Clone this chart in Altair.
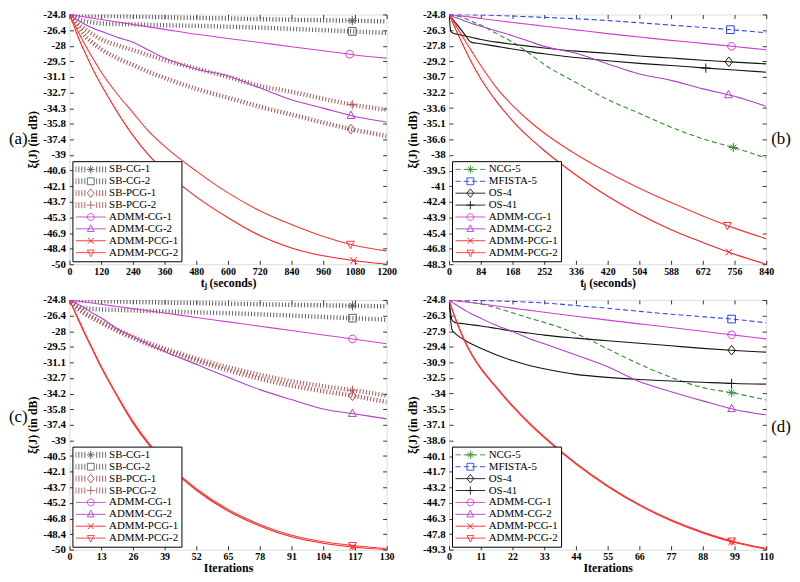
import altair as alt
import pandas as pd
import numpy as np

# ---------------- data ----------------
# panel (a): time in seconds
A_X = [0, 15, 30, 60, 90, 120, 180, 240, 300, 360, 480, 600, 720, 840, 960, 1080, 1200]
A_SB_CG_1 = [-24.80, -24.83, -24.85, -24.87, -24.89, -24.92, -24.96, -25.00, -25.04, -25.08, -25.15, -25.20, -25.27, -25.33, -25.38, -25.43, -25.50]
A_SB_CG_2 = [-24.80, -25.00, -25.20, -25.45, -25.60, -25.70, -25.76, -25.80, -25.84, -25.88, -25.95, -26.03, -26.13, -26.25, -26.38, -26.52, -26.66]
A_SB_PCG_1 = [-24.80, -25.40, -25.90, -27.00, -27.70, -28.30, -29.20, -29.90, -30.60, -31.20, -32.30, -33.20, -34.10, -34.90, -35.70, -36.45, -37.05]
A_SB_PCG_2 = [-24.80, -25.30, -25.70, -26.30, -26.85, -27.30, -27.90, -28.40, -28.90, -29.40, -30.25, -31.10, -32.00, -32.60, -33.30, -33.95, -34.40]
A_ADMM_CG_1 = [-24.80, -24.86, -24.93, -25.05, -25.18, -25.30, -25.55, -25.80, -26.05, -26.30, -26.80, -27.22, -27.63, -28.05, -28.46, -28.88, -29.20]
A_ADMM_CG_2 = [-24.80, -25.10, -25.35, -25.80, -26.20, -26.50, -27.10, -27.60, -28.40, -29.20, -30.30, -31.00, -32.20, -33.40, -34.25, -35.10, -35.65]
A_ADMM_PCG_1 = [-24.80, -25.80, -26.90, -28.70, -30.40, -31.90, -34.60, -37.00, -39.00, -40.60, -43.20, -45.30, -47.10, -48.35, -49.15, -49.65, -50.00]
A_ADMM_PCG_2 = [-24.80, -25.60, -26.40, -27.90, -29.30, -30.60, -32.80, -34.70, -36.60, -38.10, -40.60, -42.80, -44.60, -46.00, -47.20, -48.10, -48.65]
A_MARK_X = [1070, 1070, 1065, 1070, 1060, 1065, 1075, 1063]
A_YLABELS = ["-24.8", "-26.4", "-28", "-29.5", "-31.1", "-32.7", "-34.3", "-35.8", "-37.4",
             "-39", "-40.6", "-42.1", "-43.7", "-45.3", "-46.9", "-48.4", "-50"]

# panel (b): time in seconds
B_X = [0, 5, 10, 20, 30, 42, 58, 84, 126, 168, 210, 252, 336, 420, 504, 588, 672, 756, 840]
B_NCG_5 = [-24.80, -24.84, -24.88, -24.95, -25.02, -25.15, -25.40, -25.80, -26.60, -27.40, -28.40, -29.50, -31.20, -32.80, -34.10, -35.40, -36.50, -37.35, -38.30]
B_MFISTA_5 = [-24.80, -24.80, -24.80, -24.81, -24.81, -24.82, -24.83, -24.85, -24.90, -24.95, -25.01, -25.07, -25.20, -25.37, -25.58, -25.80, -26.02, -26.26, -26.52]
B_OS_4 = [-24.80, -26.40, -26.55, -26.65, -26.72, -26.82, -26.95, -27.15, -27.40, -27.60, -27.78, -27.95, -28.25, -28.45, -28.70, -28.90, -29.10, -29.28, -29.45]
B_OS_41 = [-24.80, -25.02, -25.25, -25.70, -26.15, -26.70, -27.40, -27.55, -27.80, -28.05, -28.28, -28.50, -28.85, -29.15, -29.40, -29.60, -29.82, -30.03, -30.23]
B_ADMM_CG_1 = [-24.80, -24.82, -24.84, -24.89, -24.93, -24.98, -25.05, -25.18, -25.37, -25.55, -25.72, -25.90, -26.25, -26.60, -26.92, -27.24, -27.52, -27.82, -28.12]
B_ADMM_CG_2 = [-24.80, -24.90, -24.98, -25.12, -25.25, -25.42, -25.62, -25.90, -26.35, -26.80, -27.30, -27.80, -28.45, -29.45, -30.40, -31.00, -31.80, -32.50, -33.45]
B_ADMM_PCG_1 = [-24.80, -25.20, -25.60, -26.40, -27.15, -28.05, -29.20, -30.85, -33.00, -34.80, -36.30, -37.60, -39.90, -41.90, -43.60, -45.05, -46.25, -47.35, -48.30]
B_ADMM_PCG_2 = [-24.80, -25.05, -25.35, -25.95, -26.55, -27.25, -28.15, -29.60, -31.70, -33.35, -34.75, -35.95, -37.95, -39.65, -41.15, -42.50, -43.75, -44.90, -45.90]
B_MARK_X = [753, 745, 741, 680, 748, 740, 741, 737]
B_YLABELS = ["-24.8", "-26.3", "-27.8", "-29.2", "-30.7", "-32.2", "-33.6", "-35.1", "-36.6",
             "-38", "-39.5", "-41", "-42.4", "-43.9", "-45.4", "-46.8", "-48.3"]

# panel (c): iterations
C_X = [0, 2, 4, 7, 10, 13, 19.5, 26, 32.5, 39, 52, 65, 78, 91, 104, 117, 130]
C_SB_CG_1 = [-24.80, -24.82, -24.84, -24.86, -24.89, -24.91, -24.95, -24.99, -25.03, -25.06, -25.12, -25.18, -25.24, -25.29, -25.34, -25.39, -25.45]
C_SB_CG_2 = [-24.80, -25.20, -25.45, -25.65, -25.72, -25.76, -25.81, -25.86, -25.91, -25.96, -26.05, -26.14, -26.25, -26.38, -26.52, -26.65, -26.80]
C_SB_PCG_1 = [-24.80, -25.40, -25.80, -26.30, -26.70, -27.10, -27.90, -28.65, -29.30, -29.90, -30.95, -31.90, -32.75, -33.45, -34.00, -34.50, -35.10]
C_SB_PCG_2 = [-24.80, -25.35, -25.70, -26.20, -26.60, -27.00, -27.80, -28.50, -29.15, -29.70, -30.70, -31.60, -32.35, -33.00, -33.50, -33.95, -34.45]
C_ADMM_CG_1 = [-24.80, -24.87, -24.94, -25.04, -25.14, -25.24, -25.46, -25.68, -25.90, -26.12, -26.57, -27.01, -27.45, -27.89, -28.33, -28.77, -29.22]
C_ADMM_CG_2 = [-24.80, -25.05, -25.30, -25.75, -26.20, -26.60, -27.70, -28.50, -29.30, -30.00, -31.30, -32.60, -33.85, -34.85, -35.80, -36.30, -36.80]
C_ADMM_PCG_1 = [-24.80, -25.90, -27.00, -28.60, -30.10, -31.60, -34.50, -37.20, -39.40, -41.20, -44.00, -46.10, -47.60, -48.70, -49.35, -49.75, -50.00]
C_ADMM_PCG_2 = [-24.80, -25.85, -26.90, -28.50, -30.00, -31.50, -34.40, -37.05, -39.25, -41.05, -43.85, -45.95, -47.45, -48.55, -49.20, -49.60, -49.90]
C_MARK_X = [116, 116, 116, 116, 116, 116, 116, 116]
C_YLABELS = ["-24.8", "-26.4", "-28", "-29.5", "-31.1", "-32.7", "-34.2", "-35.8", "-37.4",
             "-39", "-40.5", "-42.1", "-43.7", "-45.2", "-46.8", "-48.4", "-50"]

# panel (d): iterations
D_X = [0, 1, 2, 4, 6, 8, 11, 16.5, 22, 27.5, 33, 44, 55, 66, 77, 88, 99, 110]
D_NCG_5 = [-24.80, -24.82, -24.85, -24.90, -24.97, -25.05, -25.20, -25.60, -26.05, -26.55, -27.00, -28.10, -29.60, -31.10, -32.40, -33.40, -33.95, -34.62]
D_MFISTA_5 = [-24.80, -24.80, -24.80, -24.81, -24.82, -24.83, -24.85, -24.90, -24.95, -25.02, -25.10, -25.35, -25.62, -25.92, -26.20, -26.45, -26.70, -27.05]
D_OS_4 = [-24.80, -26.75, -27.00, -27.10, -27.17, -27.25, -27.35, -27.60, -27.85, -28.05, -28.25, -28.55, -28.80, -29.05, -29.30, -29.55, -29.76, -29.92]
D_OS_41 = [-24.80, -27.70, -28.05, -28.50, -28.85, -29.15, -29.55, -30.20, -30.75, -31.20, -31.55, -32.10, -32.40, -32.60, -32.75, -32.88, -33.00, -33.06]
D_ADMM_CG_1 = [-24.80, -24.84, -24.87, -24.94, -25.01, -25.08, -25.18, -25.40, -25.60, -25.80, -26.00, -26.40, -26.78, -27.15, -27.50, -27.88, -28.25, -28.62]
D_ADMM_CG_2 = [-24.80, -25.00, -25.20, -25.55, -25.90, -26.20, -26.60, -27.30, -27.90, -28.55, -29.10, -30.20, -31.35, -32.80, -33.80, -34.70, -35.55, -36.08]
D_ADMM_PCG_1 = [-24.80, -25.70, -26.50, -27.95, -29.20, -30.25, -31.55, -33.45, -35.25, -36.85, -38.30, -40.90, -43.10, -44.95, -46.45, -47.65, -48.60, -49.25]
D_ADMM_PCG_2 = [-24.80, -25.65, -26.45, -27.88, -29.12, -30.17, -31.47, -33.37, -35.17, -36.77, -38.22, -40.82, -43.02, -44.87, -46.37, -47.57, -48.52, -49.17]
D_MARK_X = [98, 98, 98, 98, 98, 98, 98, 98]
D_YLABELS = ["-24.8", "-26.3", "-27.9", "-29.4", "-30.9", "-32.5", "-34", "-35.5", "-37.1",
             "-38.6", "-40.1", "-41.7", "-43.2", "-44.7", "-46.3", "-47.8", "-49.3"]

NAMES_AC = ["SB-CG-1", "SB-CG-2", "SB-PCG-1", "SB-PCG-2",
            "ADMM-CG-1", "ADMM-CG-2", "ADMM-PCG-1", "ADMM-PCG-2"]
NAMES_BD = ["NCG-5", "MFISTA-5", "OS-4", "OS-41",
            "ADMM-CG-1", "ADMM-CG-2", "ADMM-PCG-1", "ADMM-PCG-2"]

# ---------------- styles ----------------
STYLE = {  # name: (colour, line kind, marker)
    "SB-CG-1": ("#555555", "dot", "star"),
    "SB-CG-2": ("#606060", "dot", "square"),
    "SB-PCG-1": ("#a54c4c", "dot", "diamond"),
    "SB-PCG-2": ("#ab5858", "dot", "plus"),
    "ADMM-CG-1": ("#d23fd2", "solid", "circle"),
    "ADMM-CG-2": ("#b13fc9", "solid", "triup"),
    "ADMM-PCG-1": ("#ff2020", "solid", "cross"),
    "ADMM-PCG-2": ("#ff3535", "solid", "tridown"),
    "NCG-5": ("#2f8f2f", "dash", "star"),
    "MFISTA-5": ("#3040f0", "dash", "square"),
    "OS-4": ("#151515", "solid", "diamond"),
    "OS-41": ("#151515", "solid", "plus"),
}

SERIF = "Liberation Serif"


def f(v):
    return f"{v:.3f}".rstrip("0").rstrip(".")


def glyph(kind, r):
    if kind == "circle":
        return f"M{f(-r)},0A{f(r)},{f(r)} 0 1,1 {f(r)},0A{f(r)},{f(r)} 0 1,1 {f(-r)},0Z"
    if kind == "square":
        return f"M{f(-r)},{f(-r)}H{f(r)}V{f(r)}H{f(-r)}Z"
    if kind == "diamond":
        return f"M0,{f(-1.25*r)}L{f(r)},0L0,{f(1.25*r)}L{f(-r)},0Z"
    if kind == "plus":
        a = 1.2 * r
        return f"M{f(-a)},0H{f(a)}M0,{f(-a)}V{f(a)}"
    if kind == "cross":
        a = 0.85 * r
        return f"M{f(-a)},{f(-a)}L{f(a)},{f(a)}M{f(-a)},{f(a)}L{f(a)},{f(-a)}"
    if kind == "star":
        a = 0.75 * r
        return glyph("plus", r) + f"M{f(-a)},{f(-a)}L{f(a)},{f(a)}M{f(-a)},{f(a)}L{f(a)},{f(-a)}"
    if kind == "triup":
        return f"M0,{f(-1.15*r)}L{f(r)},{f(0.75*r)}L{f(-r)},{f(0.75*r)}Z"
    if kind == "tridown":
        return f"M0,{f(1.15*r)}L{f(r)},{f(-0.75*r)}L{f(-r)},{f(-0.75*r)}Z"
    return ""


def legend_path(line, marker):
    if line == "solid":
        p = "M-1,0H1"
    elif line == "dash":
        p = "M-1,0H-0.65M-0.45,0H-0.1M0.1,0H0.45M0.65,0H1"
    else:
        xs = [-1, -0.8, -0.6, -0.4, 0.4, 0.6, 0.8, 1]
        p = "".join(f"M{f(x)},-0.2V0.2" for x in xs)
    return p + glyph(marker, 0.23)


def panel(grid, values, names, mark_x, xmax, xstep, ylabels, xtitle, tag, tag_x, tag_y,
          W=320, H=252):
    ybot = float(ylabels[-1])
    step = (-24.8 - ybot) / 16
    yticks = [round(-24.8 - i * step, 4) for i in range(17)]
    xticks = list(range(0, xmax + 1, xstep))
    lab = "[" + ",".join(f"'{t}'" for t in ylabels) + "]"

    rows, mrows = [], []
    for n, vals in zip(names, values):
        for x, y in zip(grid, vals):
            rows.append({"x": x, "y": y, "s": n, "k": STYLE[n][1], "c": STYLE[n][0]})
    for n, vals, mx in zip(names, values, mark_x):
        mrows.append({"x": mx, "y": float(np.interp(mx, grid, vals)), "s": n, "c": STYLE[n][0]})
    df = pd.DataFrame(rows)
    mdf = pd.DataFrame(mrows)

    xs = alt.Scale(domain=[0, xmax], nice=False, zero=False)
    ys = alt.Scale(domain=[ybot, -24.8], nice=False, zero=False)
    xaxis = alt.Axis(values=xticks, format="d", title=xtitle, labelFont=SERIF, labelFontWeight="bold",
                     labelFontSize=10, labelColor="black", labelPadding=2, labelFlush=False,
                     labelOverlap=False, ticks=False, domain=False, grid=True, gridColor="black",
                     gridOpacity=1, gridWidth=0.8, gridDash=[4, H - 8, 4], titleFont=SERIF,
                     titleFontSize=12, titleFontWeight="bold", titleColor="black", titlePadding=1)
    yaxis = alt.Axis(values=yticks, labelExpr=f"{lab}[round((-24.8 - datum.value) / {step})]",
                     title="ξ(J)    (in dB)", labelFont=SERIF, labelFontWeight="bold",
                     labelFontSize=11, labelColor="black", labelPadding=4, labelOverlap=False,
                     ticks=False, domain=False, grid=True, gridColor="black", gridOpacity=1,
                     gridWidth=0.8, gridDash=[4, W - 8, 4], titleFont=SERIF, titleFontSize=12,
                     titleFontWeight="bold", titleColor="black", titlePadding=3)
    ex = alt.X("x:Q", scale=xs, axis=xaxis)
    ey = alt.Y("y:Q", scale=ys, axis=yaxis)

    layers = []
    for kind, props in [("dot", dict(strokeWidth=4.5, strokeDash=[1, 2.2], strokeCap="butt")),
                        ("dash", dict(strokeWidth=1.1, strokeDash=[5, 3])),
                        ("solid", dict(strokeWidth=1.1))]:
        sub = df[df.k == kind]
        if len(sub) == 0:
            continue
        layers.append(alt.Chart(sub).mark_line(clip=True, interpolate="monotone", **props).encode(
            x=ex, y=ey, detail="s:N", color=alt.Color("c:N", scale=None)))

    # one marker per series, each with its own glyph
    for n in names:
        layers.append(alt.Chart(mdf[mdf.s == n]).mark_point(
            filled=False, size=60, strokeWidth=1, opacity=1, shape=glyph(STYLE[n][2], 1)).encode(
            x=ex, y=ey, color=alt.Color("c:N", scale=None)))

    # legend only: invisible points carrying stroke + shape (line sample and marker)
    leg = alt.Legend(title=None, orient="bottom-left", offset=3, padding=3, strokeColor="black",
                     fillColor="white", labelFont=SERIF, labelFontSize=11, labelColor="black",
                     symbolSize=900, symbolStrokeWidth=0.9, clipHeight=10.6, rowPadding=0,
                     labelOffset=3, cornerRadius=0, labelLimit=200, symbolOpacity=1)
    layers.append(alt.Chart(mdf).mark_point(filled=False, opacity=0).encode(
        x=ex, y=ey,
        stroke=alt.Stroke("s:N", scale=alt.Scale(domain=names, range=[STYLE[n][0] for n in names]),
                          legend=leg),
        shape=alt.Shape("s:N", scale=alt.Scale(domain=names,
                                               range=[legend_path(STYLE[n][1], STYLE[n][2]) for n in names]),
                        legend=leg)))

    layers.append(alt.Chart(pd.DataFrame({"t": [tag]})).mark_text(
        font=SERIF, fontSize=17, align="left", baseline="middle", color="black").encode(
        x=alt.value(tag_x), y=alt.value(tag_y), text="t:N"))

    return alt.layer(*layers).properties(width=W, height=H)


pa = panel(A_X, [A_SB_CG_1, A_SB_CG_2, A_SB_PCG_1, A_SB_PCG_2, A_ADMM_CG_1, A_ADMM_CG_2,
                 A_ADMM_PCG_1, A_ADMM_PCG_2], NAMES_AC, A_MARK_X, 1200, 120, A_YLABELS,
           "tⱼ   (seconds)", "(a)", -61, 126)
pb = panel(B_X, [B_NCG_5, B_MFISTA_5, B_OS_4, B_OS_41, B_ADMM_CG_1, B_ADMM_CG_2,
                 B_ADMM_PCG_1, B_ADMM_PCG_2], NAMES_BD, B_MARK_X, 840, 84, B_YLABELS,
           "tⱼ   (seconds)", "(b)", 325, 126)
pc = panel(C_X, [C_SB_CG_1, C_SB_CG_2, C_SB_PCG_1, C_SB_PCG_2, C_ADMM_CG_1, C_ADMM_CG_2,
                 C_ADMM_PCG_1, C_ADMM_PCG_2], NAMES_AC, C_MARK_X, 130, 13, C_YLABELS,
           "Iterations", "(c)", -61, 118)
pd_ = panel(D_X, [D_NCG_5, D_MFISTA_5, D_OS_4, D_OS_41, D_ADMM_CG_1, D_ADMM_CG_2,
                  D_ADMM_PCG_1, D_ADMM_PCG_2], NAMES_BD, D_MARK_X, 110, 11, D_YLABELS,
            "Iterations", "(d)", 325, 128)

chart = alt.concat(pa, pb, pc, pd_, columns=2, spacing={"row": 36, "column": 63}, bounds="flush") \
    .resolve_scale(stroke="independent", shape="independent") \
    .properties(padding={"left": 0, "top": -3, "right": 0, "bottom": 0}) \
    .configure_view(stroke="black", strokeWidth=1) \
    .configure(background="white")

chart.save("out.html", embed_options={"renderer": "svg", "actions": False})
